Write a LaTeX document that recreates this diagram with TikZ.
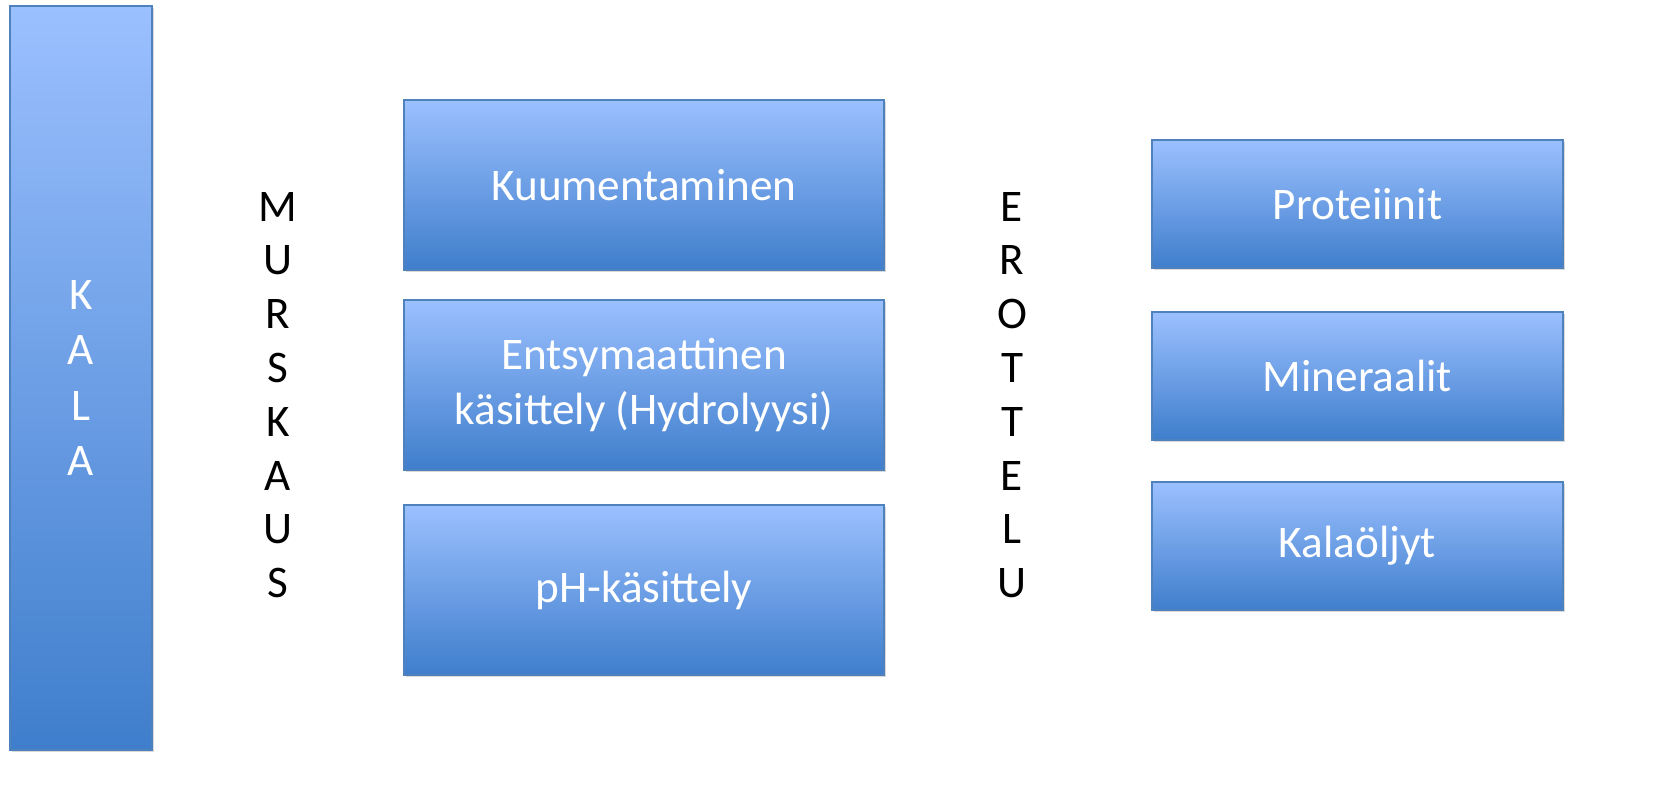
\documentclass[tikz,border=0pt]{standalone}
\usepackage{fontspec}
\setmainfont{Carlito}
\usetikzlibrary{shadows}
\definecolor{boxtop}{RGB}{155,192,255}
\definecolor{boxbot}{RGB}{63,126,204}
\definecolor{boxline}{RGB}{79,129,189}

\begin{document}
\begin{tikzpicture}[x=0.5pt, y=-0.5pt,
  box/.style={rectangle, draw=boxline, line width=0.8pt, top color=boxtop, bottom color=boxbot,
    text=white, align=center, inner sep=0pt,
    drop shadow={opacity=0.3, shadow xshift=1.2pt, shadow yshift=-1.2pt},
    font=\fontsize{22.6}{27.8}\selectfont},
  letters/.style={align=center, inner sep=0pt, font=\fontsize{22.6}{26.9}\selectfont}]
  \useasboundingbox (0,0) rectangle (1680,806);

  \node[box, minimum width=71pt, minimum height=372pt] (kala) at (81,378) {K\\A\\L\\A};

  \node[letters] (murskaus) at (278,395) {M\\U\\R\\S\\K\\A\\U\\S};

  \node[box, minimum width=240pt, minimum height=85pt] (kuum) at (644,185) {Kuumentaminen};
  \node[box, minimum width=240pt, minimum height=85pt] (entsy) at (644,385) {Entsymaattinen\\käsittely (Hydrolyysi)};
  \node[box, minimum width=240pt, minimum height=85pt] (ph) at (644,590) {pH-käsittely};

  \node[letters] (erottelu) at (1012,395) {E\\R\\O\\T\\T\\E\\L\\U};

  \node[box, minimum width=205.5pt, minimum height=64pt] (prot) at (1357.5,204) {Proteiinit};
  \node[box, minimum width=205.5pt, minimum height=64pt] (mine) at (1357.5,376) {Mineraalit};
  \node[box, minimum width=205.5pt, minimum height=64pt] (oljy) at (1357.5,546) {Kalaöljyt};
\end{tikzpicture}
\end{document}
